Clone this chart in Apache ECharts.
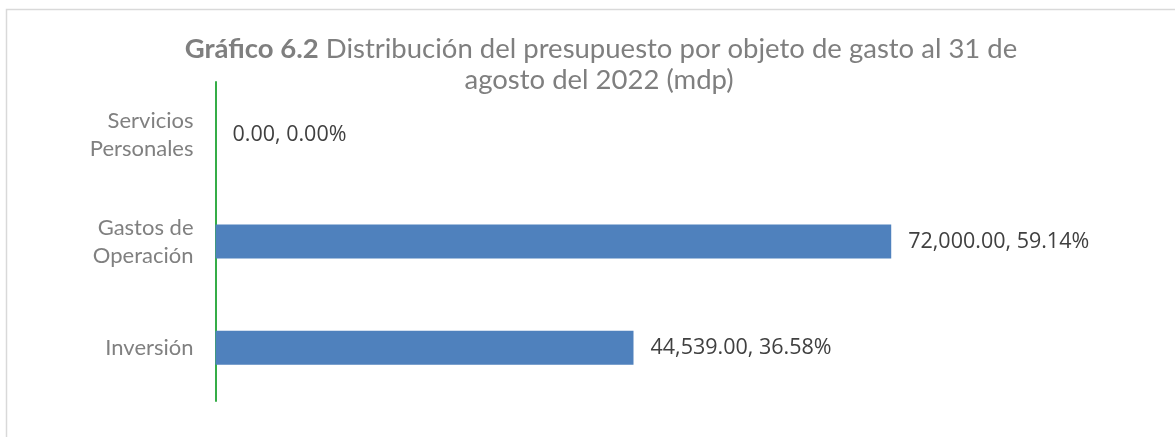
<!DOCTYPE html>
<html>
<head>
<meta charset="utf-8">
<script src="https://cdn.jsdelivr.net/npm/echarts@6/dist/echarts.min.js"></script>
<style>
  html, body { margin: 0; padding: 0; background: #fff; }
  #chart { width: 1175px; height: 437px; }
</style>
</head>
<body>
<div id="chart"></div>
<script>
// datos del gráfico
var categorias = ['Servicios\nPersonales', 'Gastos de\nOperación', 'Inversión'];
var montos = [0, 72000, 44539];
var porcentajes = [0.00, 59.14, 36.58];

function fmtNum(v) {
  return v.toLocaleString('en-US', { minimumFractionDigits: 2, maximumFractionDigits: 2 });
}

var chart = echarts.init(document.getElementById('chart'));
chart.setOption({
  animation: false,
  backgroundColor: '#fff',
  graphic: [{
    type: 'rect',
    shape: { x: 6.5, y: 9.5, width: 1300, height: 600 },
    style: { fill: 'none', stroke: '#d9d9d9', lineWidth: 1.5 },
    silent: true
  }],
  title: [{
    text: '{b|Gráfico 6.2} Distribución del presupuesto por objeto de gasto al 31 de',
    left: 596, top: 30, textAlign: 'center',
    textStyle: {
      fontFamily: 'Lato', fontSize: 27.5, fontWeight: 'normal', color: '#7f7f7f',
      rich: { b: { fontFamily: 'Lato', fontSize: 27.5, fontWeight: 'bold', color: '#7f7f7f' } }
    }
  }, {
    text: 'agosto del 2022 (mdp)',
    left: 594, top: 61, textAlign: 'center',
    textStyle: { fontFamily: 'Lato', fontSize: 27.5, fontWeight: 'normal', color: '#7f7f7f' }
  }],
  grid: { left: 215.5, right: 21, top: 82, bottom: 36, containLabel: false },
  xAxis: {
    type: 'value', min: 0, max: 100000, show: false
  },
  yAxis: {
    type: 'category', data: categorias, inverse: true,
    axisLine: { lineStyle: { color: '#35ad47', width: 2 } },
    axisTick: { show: false },
    axisLabel: {
      margin: 22, fontFamily: 'Lato', fontSize: 22, color: '#808080',
      lineHeight: 28, align: 'right'
    }
  },
  series: [{
    type: 'bar',
    data: montos,
    barWidth: 34,
    itemStyle: { color: '#4f81bd' },
    label: {
      show: true, position: 'right', distance: 17,
      fontFamily: 'Open Sans', fontSize: 21.5, color: '#404040',
      formatter: function (p) {
        return fmtNum(p.value) + ', ' + porcentajes[p.dataIndex].toFixed(2) + '%';
      }
    }
  }]
});
</script>
</body>
</html>
